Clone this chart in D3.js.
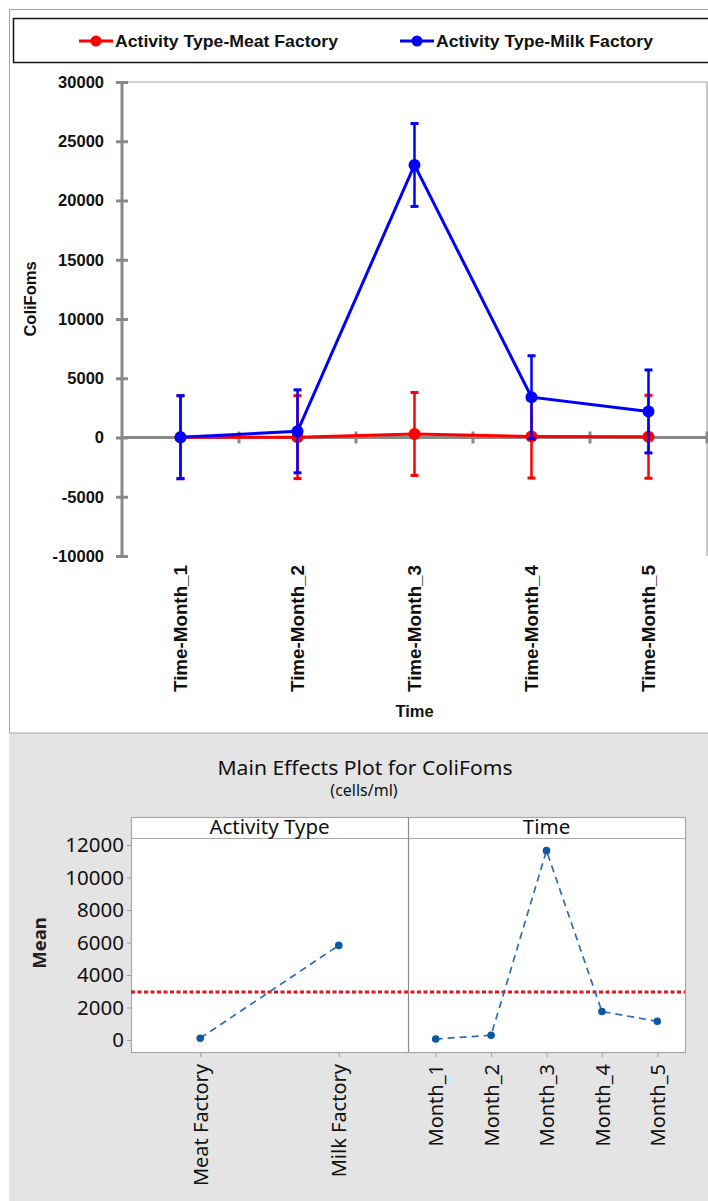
<!DOCTYPE html>
<html>
<head>
<meta charset="utf-8">
<script src="https://cdn.jsdelivr.net/npm/d3@7"></script>
<style>
  body { margin: 0; background: #fff; }
  svg { display: block; }
</style>
</head>
<body>
<svg id="chart" width="708" height="1201"></svg>
<script>
// ---- Interaction chart: coliform counts by month for each activity type ----
const months = ["Time-Month_1", "Time-Month_2", "Time-Month_3", "Time-Month_4", "Time-Month_5"];
const meatValues = [20, 30, 300, 80, 60];
const milkValues = [30, 520, 23000, 3400, 2200];
const meatErrors = [3500, 3500, 3500, 3500, 3500];
const milkErrors = [3500, 3500, 3500, 3500, 3500];
const seriesNames = ["Activity Type-Meat Factory", "Activity Type-Milk Factory"];
const yTicksTop = [-10000, -5000, 0, 5000, 10000, 15000, 20000, 25000, 30000];

// ---- Main effects plot ----
const activityLevels = ["Meat Factory", "Milk Factory"];
const activityMeans = [110, 5820];
const monthLevels = ["Month_1", "Month_2", "Month_3", "Month_4", "Month_5"];
const monthMeans = [60, 290, 11650, 1750, 1150];
const grandMean = 2960;
const yTicksBottom = [0, 2000, 4000, 6000, 8000, 10000, 12000];

const svg = d3.select("#chart");
const topFont = "'Liberation Sans', Arial, sans-serif";
const botFont = "'Noto Sans', 'Open Sans', sans-serif";
const plainNum = d => String(d);

// ===== Top panel =====
svg.append("rect").attr("x", 9.5).attr("y", 9.5).attr("width", 710).attr("height", 723.5)
  .attr("fill", "#fff").attr("stroke", "#a6a6a6").attr("stroke-width", 1);

// legend
svg.append("rect").attr("x", 13.5).attr("y", 18.5).attr("width", 710).attr("height", 44)
  .attr("fill", "none").attr("stroke", "#111").attr("stroke-width", 1.5);
const legendItems = [
  { name: seriesNames[0], color: "#ff0000", x: 79, w: 223 },
  { name: seriesNames[1], color: "#0000ff", x: 400, w: 217 }
];
const lg = svg.append("g").selectAll("g").data(legendItems).join("g")
  .attr("transform", d => `translate(${d.x},41)`);
lg.append("line").attr("x1", 0).attr("x2", 34).attr("stroke", d => d.color).attr("stroke-width", 3);
lg.append("circle").attr("cx", 17).attr("r", 5.5).attr("fill", d => d.color);
lg.append("text").attr("x", 36).attr("dy", "0.36em").text(d => d.name)
  .attr("textLength", d => d.w).attr("lengthAdjust", "spacingAndGlyphs")
  .attr("font-family", topFont).attr("font-weight", "bold").attr("font-size", 17).attr("fill", "#111");

const plotL = 122, plotR = 707, plotT = 82, plotB = 556;
const x = d3.scalePoint().domain(months).range([plotL, plotR]).padding(0.5);
const band = d3.scaleBand().domain(months).range([plotL, plotR]);
const y = d3.scaleLinear().domain([-10000, 30000]).range([plotB, plotT]);
const axisGray = "#888888";

// plot frame (top and right)
svg.append("path").attr("d", `M${plotL},${plotT}H${plotR}V${plotB}`)
  .attr("fill", "none").attr("stroke", "#a6a6a6").attr("stroke-width", 1.2);

// y axis
const yAxisG = svg.append("g").attr("transform", `translate(${plotL},0)`)
  .call(d3.axisLeft(y).tickValues(yTicksTop).tickSize(6).tickPadding(12).tickFormat(plainNum));
yAxisG.select(".domain").attr("stroke", axisGray).attr("stroke-width", 3).attr("d", `M0,${plotT}V${plotB}`);
yAxisG.selectAll(".tick line").attr("x1", -6).attr("x2", 6).attr("stroke", axisGray).attr("stroke-width", 3);
yAxisG.selectAll(".tick text").attr("font-family", topFont).attr("font-weight", "bold")
  .attr("font-size", 16.5).attr("fill", "#111");

// horizontal zero axis with category boundary ticks
const zeroG = svg.append("g").attr("transform", `translate(0,${y(0)})`)
  .call(d3.axisBottom(band).tickSize(0).tickFormat(""));
zeroG.select(".domain").attr("stroke", axisGray).attr("stroke-width", 3).attr("d", `M${plotL},0H${plotR}`);
zeroG.selectAll(".tick").remove();
zeroG.selectAll("line.bound").data(months).join("line").attr("class", "bound")
  .attr("x1", d => band(d) + band.bandwidth()).attr("x2", d => band(d) + band.bandwidth())
  .attr("y1", -6).attr("y2", 6).attr("stroke", axisGray).attr("stroke-width", 3);

// category labels
const catG = svg.append("g").attr("transform", `translate(0,${plotB})`)
  .call(d3.axisBottom(x).tickSize(0).tickPadding(0));
catG.select(".domain").remove();
catG.selectAll(".tick text")
  .attr("transform", "translate(0,9) rotate(-90)")
  .attr("text-anchor", "end").attr("x", 0).attr("y", 0).attr("dy", "0.36em")
  .attr("textLength", 127).attr("lengthAdjust", "spacingAndGlyphs")
  .attr("font-family", topFont).attr("font-weight", "bold").attr("font-size", 17.5).attr("fill", "#111");

svg.append("text").attr("x", x(months[2])).attr("y", 717).attr("text-anchor", "middle")
  .attr("font-family", topFont).attr("font-weight", "bold").attr("font-size", 16.5).attr("fill", "#111").text("Time");
svg.append("text").attr("transform", "translate(36,299) rotate(-90)").attr("text-anchor", "middle")
  .attr("font-family", topFont).attr("font-weight", "bold").attr("font-size", 16.5).attr("fill", "#111").text("ColiFoms");

// series
const series = [
  { values: meatValues, errors: meatErrors, color: "#ff0000" },
  { values: milkValues, errors: milkErrors, color: "#0000ff" }
];
const line = d3.line().x((d, i) => x(months[i])).y(d => y(d));
series.forEach(s => {
  const g = svg.append("g");
  const pts = s.values.map((v, i) => ({ m: months[i], v, e: s.errors[i] }));
  g.selectAll("line.err").data(pts).join("line").attr("class", "err")
    .attr("x1", d => x(d.m)).attr("x2", d => x(d.m))
    .attr("y1", d => y(d.v - d.e)).attr("y2", d => y(d.v + d.e))
    .attr("stroke", s.color).attr("stroke-width", 2.5);
  ["-", "+"].forEach(sign => {
    g.selectAll(null).data(pts).join("line")
      .attr("x1", d => x(d.m) - 4).attr("x2", d => x(d.m) + 4)
      .attr("y1", d => y(sign === "+" ? d.v + d.e : d.v - d.e))
      .attr("y2", d => y(sign === "+" ? d.v + d.e : d.v - d.e))
      .attr("stroke", s.color).attr("stroke-width", 3);
  });
  g.append("path").datum(s.values).attr("d", line).attr("fill", "none")
    .attr("stroke", s.color).attr("stroke-width", 3);
  g.selectAll("circle").data(pts).join("circle")
    .attr("cx", d => x(d.m)).attr("cy", d => y(d.v)).attr("r", 6).attr("fill", s.color);
});

// ===== Bottom panel: main effects =====
svg.append("line").attr("x1", 9).attr("x2", 708).attr("y1", 733.5).attr("y2", 733.5)
  .attr("stroke", "#c4c4c4").attr("stroke-width", 1.5);
svg.append("rect").attr("x", 9).attr("y", 734).attr("width", 699).attr("height", 467).attr("fill", "#e4e4e4");

svg.append("text").attr("x", 365).attr("y", 775).attr("text-anchor", "middle")
  .attr("textLength", 295).attr("lengthAdjust", "spacingAndGlyphs")
  .attr("font-family", botFont).attr("font-size", 20.5).attr("fill", "#111").text("Main Effects Plot for ColiFoms");
svg.append("text").attr("x", 364).attr("y", 796).attr("text-anchor", "middle")
  .attr("font-family", botFont).attr("font-size", 16).attr("fill", "#111").text("(cells/ml)");

const bL = 131, bMid = 408, bR = 685, hT = 817, bT = 838, bB = 1052;
const yb = d3.scaleLinear().domain([-740, 12430]).range([bB, bT]);
const xa = d3.scalePoint().domain(activityLevels).range([bL, bMid]).padding(0.5);
const xm = d3.scalePoint().domain(monthLevels).range([bMid, bR]).padding(0.5);

svg.append("rect").attr("x", bL + 0.5).attr("y", hT + 0.5).attr("width", bR - bL).attr("height", bB - hT)
  .attr("fill", "#fff").attr("stroke", "#a8a8a8").attr("stroke-width", 1.2);
svg.append("line").attr("x1", bL).attr("x2", bR).attr("y1", bT + 0.5).attr("y2", bT + 0.5)
  .attr("stroke", "#a8a8a8").attr("stroke-width", 1.2);
svg.append("line").attr("x1", bMid + 0.5).attr("x2", bMid + 0.5).attr("y1", hT).attr("y2", bB)
  .attr("stroke", "#8c8c8c").attr("stroke-width", 1.2);

const headers = [{ t: "Activity Type", cx: (bL + bMid) / 2 }, { t: "Time", cx: (bMid + bR) / 2 }];
svg.selectAll("text.hdr").data(headers).join("text").attr("class", "hdr")
  .attr("x", d => d.cx).attr("y", 834).attr("text-anchor", "middle")
  .attr("font-family", botFont).attr("font-size", 20.5).attr("fill", "#111").text(d => d.t);

// y axis
const ybG = svg.append("g").attr("transform", `translate(${bL},0)`)
  .call(d3.axisLeft(yb).tickValues(yTicksBottom).tickSize(4).tickPadding(3).tickFormat(plainNum));
ybG.select(".domain").remove();
ybG.selectAll(".tick line").attr("stroke", "#a0a0a0");
ybG.selectAll(".tick text").attr("font-family", botFont).attr("font-size", 20.5).attr("fill", "#111");

svg.append("text").attr("transform", "translate(46,943) rotate(-90)").attr("text-anchor", "middle")
  .attr("font-family", botFont).attr("font-size", 18.5).attr("font-weight", "bold").attr("fill", "#222").text("Mean");

// x axes
[xa, xm].forEach(sc => {
  const g = svg.append("g").attr("transform", `translate(0,${bB})`)
    .call(d3.axisBottom(sc).tickSize(5).tickPadding(0));
  g.select(".domain").remove();
  g.selectAll(".tick line").attr("stroke", "#a0a0a0");
  g.selectAll(".tick text")
    .attr("transform", "translate(0,12) rotate(-90)")
    .attr("text-anchor", "end").attr("x", 0).attr("y", 0).attr("dy", "0.36em")
    .attr("font-family", botFont).attr("font-size", 20).attr("fill", "#111");
});

// grand mean reference line
svg.append("line").attr("x1", bL).attr("x2", bR).attr("y1", yb(grandMean)).attr("y2", yb(grandMean))
  .attr("stroke", "#e3121b").attr("stroke-width", 3).attr("stroke-dasharray", "4,2.5");

// effect lines and points
const effects = [
  { sc: xa, levels: activityLevels, means: activityMeans },
  { sc: xm, levels: monthLevels, means: monthMeans }
];
effects.forEach(ef => {
  const pts = ef.levels.map((l, i) => ({ l, v: ef.means[i] }));
  svg.append("path").datum(pts)
    .attr("d", d3.line().x(d => ef.sc(d.l)).y(d => yb(d.v)))
    .attr("fill", "none").attr("stroke", "#2e6cb5").attr("stroke-width", 1.7).attr("stroke-dasharray", "7,5");
  svg.append("g").selectAll("circle").data(pts).join("circle")
    .attr("cx", d => ef.sc(d.l)).attr("cy", d => yb(d.v)).attr("r", 3.8).attr("fill", "#0b58a5");
});
</script>
</body>
</html>
